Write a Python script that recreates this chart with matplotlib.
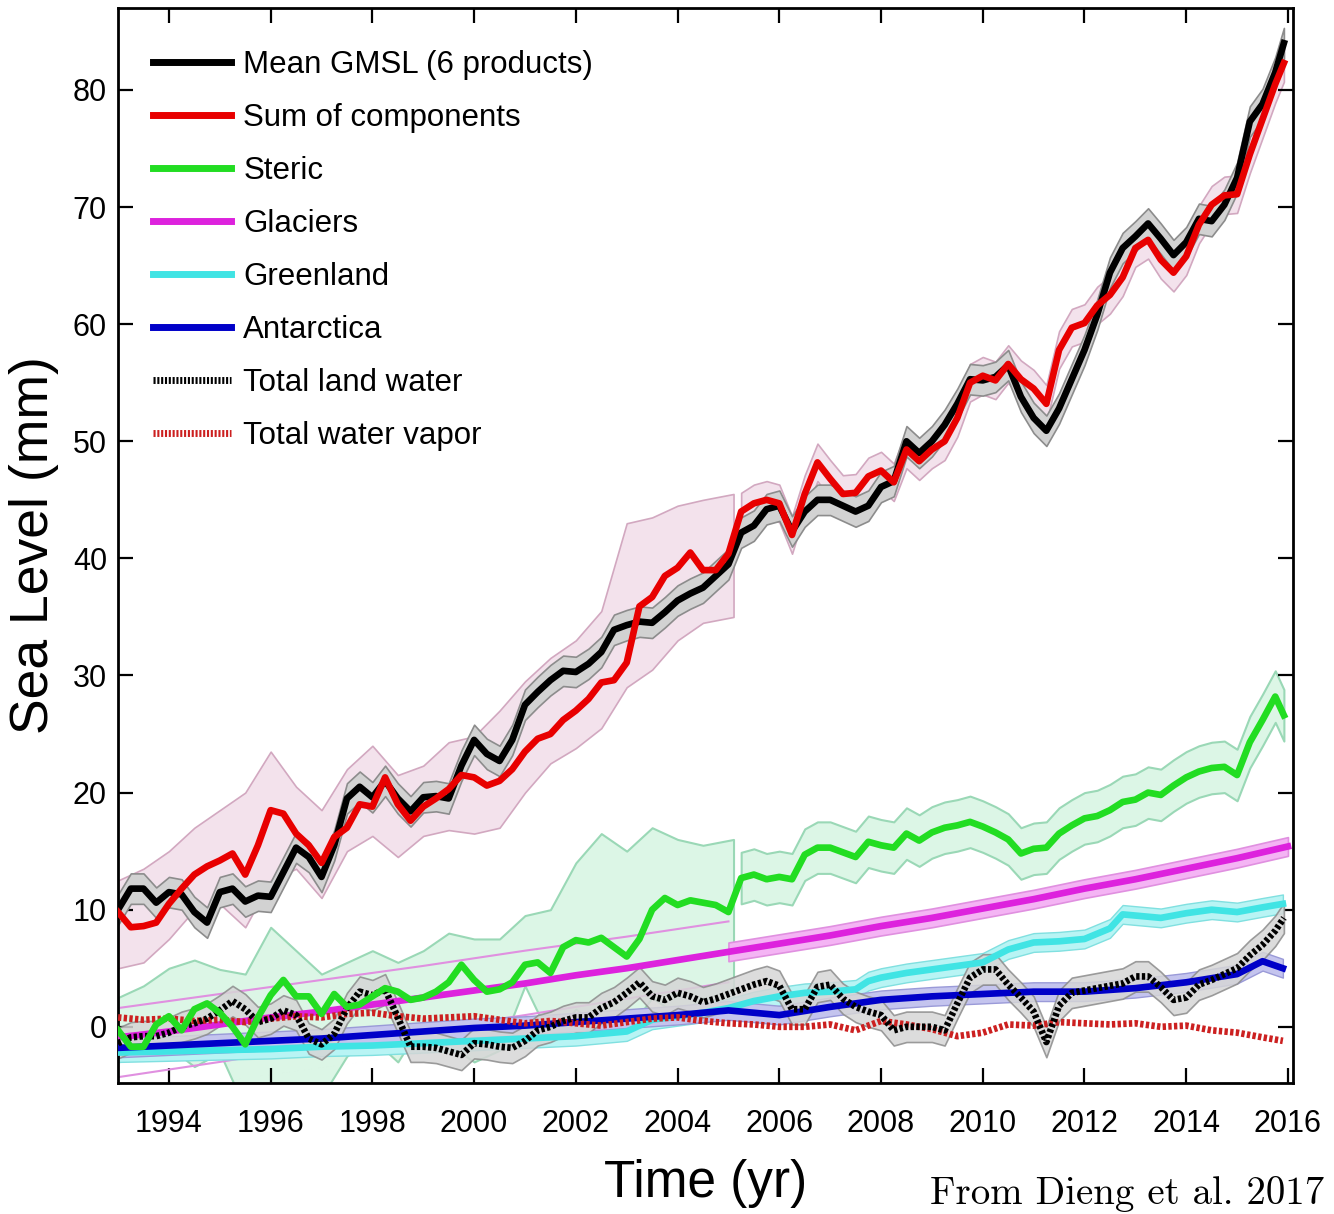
import numpy as np
import matplotlib.pyplot as plt
from matplotlib.lines import Line2D

plt.rcParams['font.family'] = ['Liberation Sans', 'DejaVu Sans']

# quarterly time axis (plus last month)
t = np.append(np.arange(1993.0, 2015.8, 0.25), 2015.92)

gmsl = [10.0, 11.8, 11.8, 10.6, 11.5, 11.3, 9.8, 8.9,
        11.5, 11.8, 10.7, 11.2, 11.1, 13.2, 15.3, 14.5,
        12.8, 15.5, 19.5, 20.5, 19.6, 21.0, 19.5, 18.4,
        19.6, 19.7, 19.5, 22.3, 24.5, 23.3, 22.7, 24.5,
        27.5, 28.6, 29.6, 30.4, 30.3, 31.0, 32.0, 33.9,
        34.3, 34.6, 34.5, 35.4, 36.4, 37.0, 37.5, 38.5,
        39.5, 42.2, 42.8, 44.2, 44.5, 42.3, 44.0, 45.0,
        45.0, 44.5, 44.0, 44.5, 46.1, 46.6, 50.0, 49.0,
        50.0, 51.4, 53.2, 55.3, 55.2, 55.5, 56.5, 53.8,
        52.0, 50.9, 52.8, 55.3, 57.8, 60.8, 64.4, 66.5,
        67.5, 68.6, 67.3, 65.9, 67.0, 69.0, 68.8, 70.2,
        72.5, 77.3, 78.8, 81.5, 84.0]
gmsl_err = 1.3

sum_comp = [9.8, 8.5, 8.6, 8.9, 10.5, 11.8, 13.0, 13.7,
            14.2, 14.8, 13.0, 15.5, 18.5, 18.2, 16.5, 15.5,
            14.0, 16.2, 17.0, 19.0, 18.8, 21.3, 19.0, 17.6,
            18.8, 19.5, 20.3, 21.5, 21.3, 20.6, 21.0, 22.0,
            23.5, 24.6, 25.0, 26.2, 27.0, 28.0, 29.4, 29.6,
            31.1, 35.9, 36.7, 38.5, 39.2, 40.5, 39.0, 39.0,
            40.4, 44.0, 44.7, 45.0, 44.7, 42.0, 45.5, 48.2,
            46.8, 45.5, 45.6, 47.0, 47.5, 46.5, 49.3, 48.3,
            49.3, 50.0, 52.0, 55.0, 55.6, 55.2, 56.6, 55.3,
            54.5, 53.2, 57.8, 59.7, 60.1, 61.6, 62.5, 64.0,
            66.5, 67.2, 65.5, 64.4, 65.8, 68.5, 70.2, 71.0,
            71.1, 74.5, 77.5, 80.5, 82.3]
sum_err_late = 1.6

# wide uncertainty of the sum before 2005
sum_band_t = [1993.0, 1993.5, 1994.0, 1994.5, 1995.0, 1995.5, 1996.0, 1996.5,
              1997.0, 1997.5, 1998.0, 1998.5, 1999.0, 1999.5, 2000.0, 2000.5,
              2001.0, 2001.5, 2002.0, 2002.5, 2003.0, 2003.5, 2004.0, 2004.5, 2005.1]
sum_band_lo = [5.0, 5.5, 7.5, 10.0, 10.5, 8.5, 12.5, 13.5, 11.0, 15.0, 16.3, 14.5,
               16.3, 16.8, 16.5, 17.0, 20.0, 22.5, 23.8, 25.5, 29.0, 30.5, 33.0, 34.5, 35.0]
sum_band_hi = [12.5, 13.5, 15.0, 17.0, 18.5, 20.0, 23.5, 20.5, 18.5, 22.0, 24.0, 21.5,
               22.3, 24.3, 24.8, 27.0, 29.5, 31.5, 33.0, 35.5, 43.0, 43.5, 44.5, 45.0, 45.5]

steric = [-0.3, -1.7, -1.7, 0.2, 0.9, -0.3, 1.5, 2.0,
          1.2, 0.0, -1.5, 0.8, 2.7, 4.0, 2.6, 2.6,
          1.1, 2.8, 1.7, 1.9, 2.6, 3.3, 3.0, 2.3,
          2.5, 3.0, 3.8, 5.3, 4.0, 3.0, 3.2, 3.8,
          5.3, 5.5, 4.6, 6.8, 7.4, 7.2, 7.6, 6.8,
          6.0, 7.5, 10.0, 11.0, 10.4, 10.8, 10.6, 10.4,
          9.8, 12.7, 13.0, 12.6, 12.8, 12.6, 14.7, 15.3,
          15.3, 14.9, 14.5, 15.8, 15.5, 15.3, 16.5, 15.9,
          16.6, 17.0, 17.2, 17.5, 17.1, 16.6, 16.0, 14.8,
          15.2, 15.3, 16.5, 17.2, 17.8, 18.0, 18.5, 19.2,
          19.4, 20.0, 19.8, 20.6, 21.3, 21.8, 22.1, 22.2,
          21.5, 24.3, 26.2, 28.2, 26.6]
steric_err_late = 2.2
steric_band_t = sum_band_t
steric_band_lo = [-3.0, -2.5, -1.7, -3.4, -2.2, -7.0, -9.0, -8.5, -6.0, -2.5, -1.0, -3.0,
                  0.5, -1.5, -3.0, -2.0, 3.5, -1.0, 1.5, 0.0, -0.5, 2.5, 1.0, 2.5, 2.0]
steric_band_hi = [2.5, 3.5, 5.0, 5.7, 4.9, 4.5, 8.5, 6.5, 4.5, 5.5, 6.5, 5.5,
                  6.5, 8.0, 7.5, 7.5, 9.5, 10.0, 14.0, 16.5, 15.0, 17.0, 16.0, 15.5, 16.0]

glac_t = list(range(1993, 2017))
glaciers = [-0.9, -0.4, 0.2, 0.8, 1.3, 1.9, 2.5, 3.1, 3.7, 4.4, 5.0, 5.7,
            6.4, 7.1, 7.8, 8.6, 9.3, 10.1, 10.9, 11.8, 12.6, 13.5, 14.4, 15.4]
glac_early_t = [1993, 1995, 1997, 1999, 2001, 2003, 2005]
glac_early_lo = [-4.3, -3.0, -1.6, -0.3, 1.0, 2.4, 3.8]
glac_early_hi = [1.6, 2.8, 4.0, 5.2, 6.5, 7.7, 9.0]
glac_err_late = 0.8

green_t = [1993, 1994, 1995, 1996, 1997, 1998, 1999, 2000, 2001, 2002, 2003, 2003.5,
           2004, 2004.5, 2005, 2005.5, 2006, 2006.5, 2007, 2007.5, 2007.75, 2008, 2008.5,
           2009, 2009.5, 2010, 2010.5, 2011, 2011.5, 2012, 2012.5, 2012.75, 2013, 2013.5,
           2014, 2014.5, 2015, 2015.5, 2015.9]
greenland = [-2.2, -2.1, -2.0, -1.9, -1.7, -1.6, -1.4, -1.2, -1.0, -0.8, -0.4, 0.6,
             0.9, 1.2, 1.6, 2.2, 2.6, 2.9, 3.0, 3.2, 3.9, 4.2, 4.6,
             4.9, 5.2, 5.5, 6.6, 7.2, 7.3, 7.5, 8.4, 9.6, 9.5, 9.3,
             9.7, 10.0, 9.8, 10.2, 10.5]
green_err = 0.8

ant_t = list(range(1993, 2016)) + [2015.5, 2015.9]
antarctica = [-1.8, -1.6, -1.4, -1.2, -1.0, -0.7, -0.4, -0.1, 0.1, 0.4, 0.7, 1.0,
              1.4, 1.0, 1.7, 2.3, 2.6, 2.8, 3.0, 3.0, 3.3, 3.8, 4.5, 5.6, 5.0]
ant_err = 0.8

land_water = [-1.4, -0.9, -0.8, -0.8, -0.5, 0.0, 0.3, 0.7,
              1.4, 2.2, 1.5, 0.4, 0.7, 1.4, 1.0, -1.0,
              -1.5, -0.6, 1.6, 3.0, 2.7, 3.2, 0.8, -1.7,
              -1.7, -1.8, -2.1, -2.4, -1.4, -1.5, -1.7, -1.8,
              -1.2, -0.3, 0.0, 0.5, 0.8, 0.8, 1.6, 2.1,
              2.9, 3.8, 2.6, 2.3, 2.9, 2.6, 2.1, 2.4,
              2.8, 3.2, 3.6, 3.9, 3.5, 1.5, 1.5, 3.4,
              3.6, 2.4, 1.7, 1.3, 1.0, -0.3, 0.0, 0.0,
              0.0, -0.3, 2.0, 4.2, 4.9, 4.9, 3.6, 2.5,
              1.3, -1.3, 1.8, 2.9, 3.1, 3.3, 3.5, 3.7,
              4.3, 4.3, 3.4, 2.3, 2.5, 3.6, 4.0, 4.5,
              5.0, 6.1, 7.0, 8.2, 9.3]
land_err = 1.3

vap_t = list(np.arange(1993.0, 2015.6, 0.5)) + [2015.9]
vapor = [0.8, 0.6, 0.7, 0.5, 0.6, 0.4, 0.7, 0.9, 0.8, 1.1, 1.2, 0.9,
         0.7, 0.8, 0.9, 0.6, 0.3, 0.5, 0.3, 0.1, 0.4, 0.7, 0.8, 0.5,
         0.3, 0.2, 0.0, 0.0, 0.2, -0.3, 0.5, 0.2, -0.2, -0.8, -0.5, 0.2,
         0.1, 0.4, 0.3, 0.2, 0.3, 0.0, 0.1, -0.3, -0.5, -0.9, -1.2]

labels = ['Mean GMSL (6 products)', 'Sum of components', 'Steric', 'Glaciers',
          'Greenland', 'Antarctica', 'Total land water', 'Total water vapor']

c_black = '#000000'
c_red = '#e80000'
c_green = '#22dd22'
c_mag = '#dd22dd'
c_cyan = '#40e4e4'
c_blue = '#0000c8'
c_vap = '#cc2020'
dots = (0, (0.5, 0.35))

fig = plt.figure(figsize=(13.34, 12.14), dpi=100)
ax = fig.add_axes([0.0885, 0.1079, 0.8808, 0.8855])

t = np.array(t)
late = t >= 2005.2

# uncertainty bands
ax.fill_between(sum_band_t, sum_band_lo, sum_band_hi, color='#f3e2ec', ec='#d2a8c0', lw=1.2, zorder=1)
ax.fill_between(t[late], np.array(sum_comp)[late] - sum_err_late, np.array(sum_comp)[late] + sum_err_late,
                color='#f3e2ec', ec='#d2a8c0', lw=1.2, zorder=1)
ax.fill_between(steric_band_t, steric_band_lo, steric_band_hi, color='#dcf6e6', ec='#9ad8b6', lw=1.5, zorder=1)
ax.fill_between(t[late], np.array(steric)[late] - steric_err_late, np.array(steric)[late] + steric_err_late,
                color='#dcf6e6', ec='#9ad8b6', lw=1.5, zorder=1)
ax.fill_between(t, np.array(gmsl) - gmsl_err, np.array(gmsl) + gmsl_err, color='#d2d2d2', ec='#8c8c8c', lw=1.2, zorder=2)
ax.plot(glac_early_t, glac_early_lo, color='#e090e0', lw=1.5, zorder=2)
ax.plot(glac_early_t, glac_early_hi, color='#e090e0', lw=1.5, zorder=2)
g_late = [i for i, y in enumerate(glac_t) if y >= 2005]
gl_t = np.array(glac_t)[g_late]
gl_v = np.array(glaciers)[g_late]
ax.fill_between(gl_t, gl_v - glac_err_late, gl_v + glac_err_late, color='#f4b4f4', ec='#e090e0', lw=1.2, zorder=2)
ax.fill_between(green_t, np.array(greenland) - green_err, np.array(greenland) + green_err,
                color='#b8f4f4', ec='#80e0e0', lw=1.0, zorder=2)
ax.fill_between(ant_t, np.array(antarctica) - ant_err, np.array(antarctica) + ant_err,
                color='#c4c4ee', ec='#9a9ad8', lw=1.0, zorder=2)
ax.fill_between(t, np.array(land_water) - land_err, np.array(land_water) + land_err,
                color='#d6d6d6', ec='#8c8c8c', lw=1.2, alpha=0.85, zorder=2)

# series
lw = 4.8
ax.plot(glac_t, glaciers, color=c_mag, lw=lw, zorder=3)
ax.plot(green_t, greenland, color=c_cyan, lw=lw, zorder=3)
ax.plot(ant_t, antarctica, color=c_blue, lw=lw, zorder=3)
ax.plot(vap_t, vapor, color=c_vap, lw=lw, ls=dots, zorder=4)
ax.plot(t, land_water, color=c_black, lw=lw, ls=dots, zorder=4)
ax.plot(t, steric, color=c_green, lw=lw, zorder=5)
ax.plot(t, gmsl, color=c_black, lw=lw, zorder=5)
ax.plot(t, sum_comp, color=c_red, lw=lw, zorder=6)

ax.set_xlim(1993.0, 2016.1)
ax.set_ylim(-4.8, 87)
ax.set_xticks(range(1994, 2017, 2))
ax.set_yticks(range(0, 81, 10))
ax.tick_params(direction='in', length=11, width=1.6, labelsize=22, top=True, right=True)
ax.tick_params(axis='x', pad=19)
ax.tick_params(axis='y', pad=8)
for s in ax.spines.values():
    s.set_linewidth(2)

ax.set_ylabel('Sea Level (mm)', fontsize=38.5, labelpad=10)
ax.set_xlabel('Time (yr)', fontsize=37, labelpad=14)

handles = [Line2D([], [], color=c_black, lw=5),
           Line2D([], [], color=c_red, lw=5),
           Line2D([], [], color=c_green, lw=5),
           Line2D([], [], color=c_mag, lw=5),
           Line2D([], [], color=c_cyan, lw=5),
           Line2D([], [], color=c_blue, lw=5),
           Line2D([], [], color=c_black, lw=5, ls=(0, (0.3, 0.25))),
           Line2D([], [], color=c_vap, lw=5, ls=(0, (0.3, 0.25)))]
ax.legend(handles, labels, loc='upper left', bbox_to_anchor=(0.0187, 0.973), frameon=False,
          fontsize=22.5, handlelength=2.5, handletextpad=0.4, labelspacing=0.74, borderaxespad=0)

# source note, kept inside the canvas
fig.text(0.993, 0.008, 'From Dieng et al. 2017', fontsize=28, fontfamily='cmr10',
         ha='right', va='baseline')

fig.savefig('out.png', dpi=100)
